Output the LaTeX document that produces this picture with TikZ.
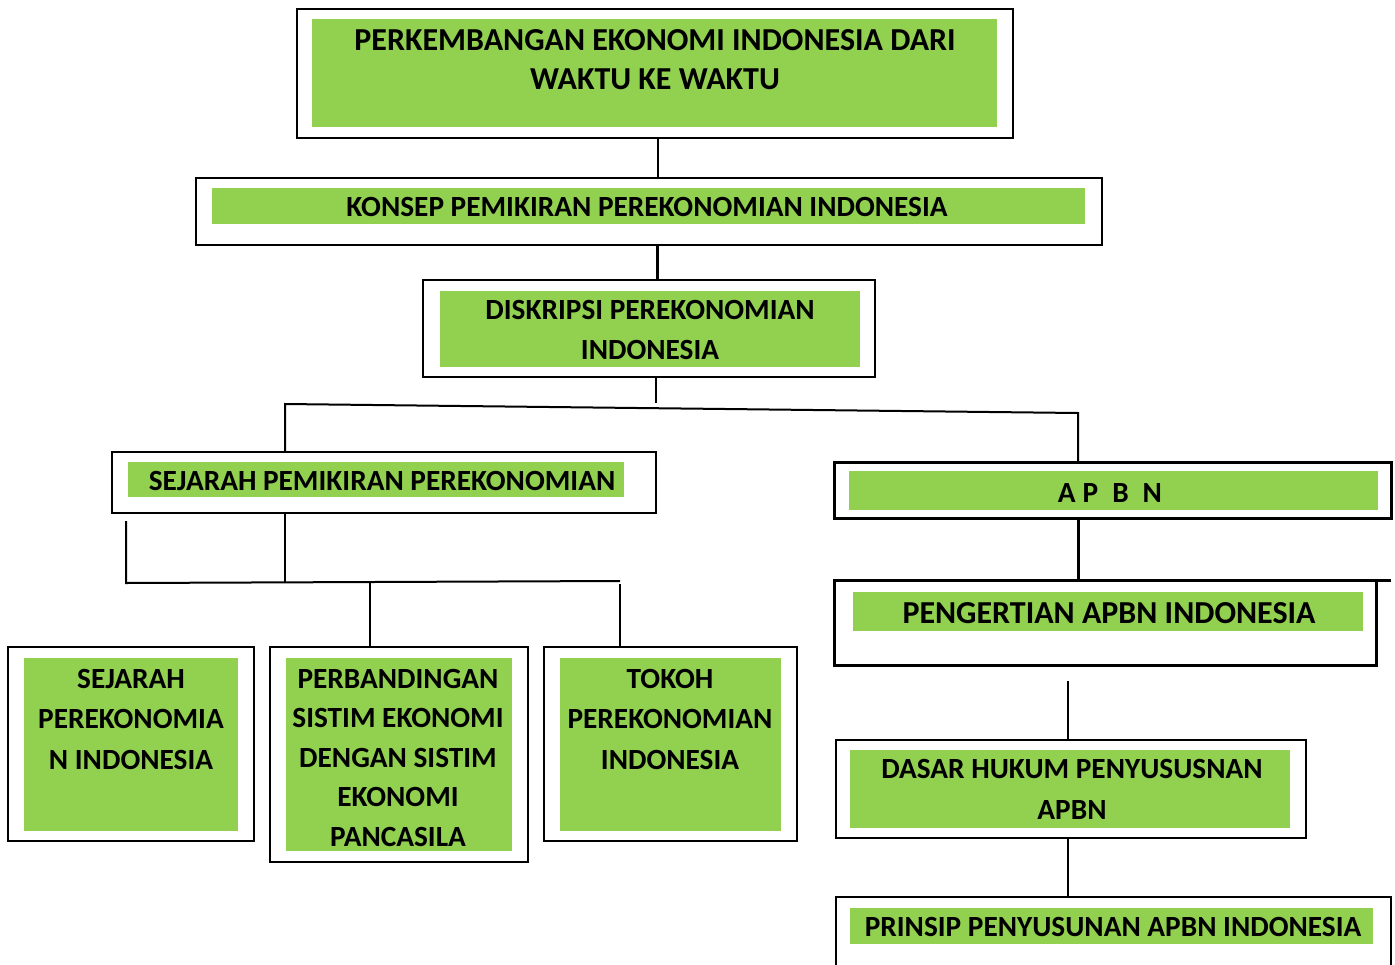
\documentclass[tikz,border=0pt]{standalone}
\usepackage{fontspec}
\setmainfont{Carlito}
\definecolor{offgreen}{RGB}{146,208,80}
\begin{document}
\begin{tikzpicture}[x=1pt,y=-1pt,
  obox/.style={draw=black,line width=2pt,fill=white,inner sep=0pt,minimum width=#1},
  thickbox/.style={obox=#1,line width=3pt},
  gbox/.style={fill=offgreen,inner sep=0pt,minimum width=#1},
  txt/.style={font=\bfseries\fontsize{29.3}{40.5}\selectfont,align=center,inner sep=0pt},
  bigtxt/.style={txt,font=\bfseries\fontsize{32}{39.5}\selectfont},
  con/.style={draw=black,line width=1.5pt},
  thickcon/.style={draw=black,line width=3pt}]
\clip (0,0) rectangle (1395,964);
\fill[white] (0,0) rectangle (1395,964);
% boxes
\node[obox=716pt,minimum height=129pt] (b1) at (655,73.5) {};
\node[gbox=685pt,minimum height=108pt] (g1) at (654.5,73) {};
\node[bigtxt] (t1) at (655,59.5) {PERKEMBANGAN EKONOMI INDONESIA DARI\\WAKTU KE WAKTU};

\node[obox=906pt,minimum height=67pt] (b2) at (649,211.5) {};
\node[gbox=873pt,minimum height=36pt] (g2) at (648.5,206) {};
\node[txt] (t2) at (647,207) {KONSEP PEMIKIRAN PEREKONOMIAN INDONESIA};

\node[obox=452pt,minimum height=97pt] (b3) at (649,328.5) {};
\node[gbox=420pt,minimum height=76pt] (g3) at (650,329) {};
\node[txt] (t3) at (650,330) {DISKRIPSI PEREKONOMIAN\\INDONESIA};

\node[obox=544pt,minimum height=61pt] (b4) at (384,482.5) {};
\node[gbox=496pt,minimum height=35pt] (g4) at (376,479.5) {};
\node[txt] (t4) at (382,481) {SEJARAH PEMIKIRAN PEREKONOMIAN};

\node[obox=246pt,minimum height=194pt] (ba) at (131,744) {};
\node[gbox=214pt,minimum height=173pt] (ga) at (131,744.5) {};
\node[txt] (ta) at (131,719) {SEJARAH\\PEREKONOMIA\\N INDONESIA};

\node[obox=258pt,minimum height=215pt] (bb) at (399,754.5) {};
\node[gbox=226pt,minimum height=193pt] (gb) at (399,754.5) {};
\node[txt,font=\bfseries\fontsize{29.3}{39.5}\selectfont] (tb) at (398,757.5) {PERBANDINGAN\\SISTIM EKONOMI\\DENGAN SISTIM\\EKONOMI\\PANCASILA};

\node[obox=253pt,minimum height=194pt] (bc) at (670.5,744) {};
\node[gbox=221pt,minimum height=173pt] (gc) at (670.5,744.5) {};
\node[txt] (tc) at (670,719) {TOKOH\\PEREKONOMIAN\\INDONESIA};

\node[thickbox=557pt,minimum height=56pt] (b5) at (1112.5,490) {};
\node[gbox=529pt,minimum height=39pt] (g5) at (1113.5,490.5) {};
\node[txt] (t5) at (1110,493) {A\hspace{7pt}P\hspace{14pt}B\hspace{14pt}N};

\node[thickbox=542pt,minimum height=85pt] (b6) at (1105,622.5) {};
\node[gbox=510pt,minimum height=39pt] (g6) at (1108,611.5) {};
\node[bigtxt] (t6) at (1109,613) {PENGERTIAN APBN INDONESIA};

\node[obox=470pt,minimum height=98pt] (b7) at (1071,789) {};
\node[gbox=440pt,minimum height=78pt] (g7) at (1070,789) {};
\node[txt] (t7) at (1072,789.5) {DASAR HUKUM PENYUSUSNAN\\APBN};

\node[obox=555pt,minimum height=120pt] (b8) at (1113.5,957) {};
\node[gbox=523pt,minimum height=36pt] (g8) at (1111.5,926) {};
\node[txt] (t8) at (1113,927) {PRINSIP PENYUSUNAN APBN INDONESIA};

% junction coordinates
\coordinate (j1) at (658,138);
\coordinate (j1b) at (658,178);
\coordinate (j2) at (657,245);
\coordinate (j2b) at (657,280);
\coordinate (j3) at (656,377);
\coordinate (j3b) at (656,403);
\coordinate (hl) at (285,404);
\coordinate (hr) at (1078,413);
\coordinate (hlb) at (285,452);
\coordinate (hrb) at (1078,462);
\coordinate (s1) at (285,513);
\coordinate (s1b) at (285,582);
\coordinate (sl) at (126,521);
\coordinate (slb) at (126,583);
\coordinate (sr) at (620,581);
\coordinate (m1) at (370,582);
\coordinate (m1b) at (370,647);
\coordinate (m2) at (620,584);
\coordinate (m2b) at (620,647);
\coordinate (a1) at (1078,518);
\coordinate (a1b) at (1078,580);
\coordinate (p0) at (1376,580);
\coordinate (p0b) at (1391,580);
\coordinate (d0) at (1068,681);
\coordinate (d0b) at (1068,740);
\coordinate (d1) at (1068,838);
\coordinate (d1b) at (1068,897);

% connectors
\draw[con] (j1) -- (j1b);
\draw[thickcon] (j2) -- (j2b);
\draw[con] (j3) -- (j3b);
\draw[con,line width=2pt] (hlb) -- (hl) -- (hr) -- (hrb);
\draw[con] (s1) -- (s1b);
\draw[con,line width=2pt] (sl) -- (slb) -- (sr);
\draw[con] (m1) -- (m1b);
\draw[con] (m2) -- (m2b);
\draw[thickcon] (a1) -- (a1b);
\draw[thickcon] (p0) -- (p0b);
\draw[con] (d0) -- (d0b);
\draw[con] (d1) -- (d1b);
\end{tikzpicture}
\end{document}
